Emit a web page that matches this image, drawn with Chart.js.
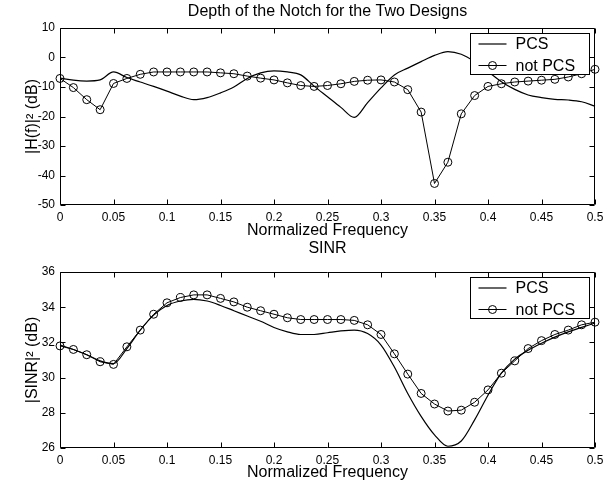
<!DOCTYPE html>
<html>
<head>
<meta charset="utf-8">
<script src="https://cdn.jsdelivr.net/npm/chart.js@4.4.1/dist/chart.umd.min.js"></script>
<style>
    html, body { margin: 0; padding: 0; background: #fff; }
    body { width: 615px; height: 487px; position: relative; overflow: hidden; }
    .panel { position: absolute; left: 0; }
    #notch-wrap { top: 0; }
    #sinr-wrap { top: 236px; }
</style>
</head>
<body>
<div class="panel" id="notch-wrap"><canvas id="notch-chart" width="615" height="245"></canvas></div>
<div class="panel" id="sinr-wrap"><canvas id="sinr-chart" width="615" height="251"></canvas></div>
<script>
// normalized frequency grid (one marker every 0.0125)
const freq = [
    0, 0.0125, 0.025, 0.0375, 0.05, 0.0625, 0.075, 0.0875, 0.1, 0.1125,
    0.125, 0.1375, 0.15, 0.1625, 0.175, 0.1875, 0.2, 0.2125, 0.225, 0.2375,
    0.25, 0.2625, 0.275, 0.2875, 0.3, 0.3125, 0.325, 0.3375, 0.35, 0.3625,
    0.375, 0.3875, 0.4, 0.4125, 0.425, 0.4375, 0.45, 0.4625, 0.475, 0.4875, 0.5,
];

// |H(f)|^2 (dB)
const notchPcs = [
    -7.0, -7.7, -8.0, -7.6, -4.9, -6.8, -8.3, -9.8, -11.4, -13.1,
    -14.3, -13.6, -12.0, -10.0, -7.1, -5.2, -4.5, -4.9, -5.9, -9.7,
    -13.3, -16.9, -20.3, -15.3, -10.3, -5.9, -3.6, -1.4, 0.7, 2.0,
    1.1, -1.4, -4.8, -8.2, -10.8, -12.7, -13.6, -14.2, -14.4, -15.0, -16.5,
];
const notchNotPcs = [
    -7.1, -10.2, -14.3, -17.7, -8.8, -7.1, -5.7, -4.9, -4.9, -4.9,
    -4.9, -4.9, -5.2, -5.5, -6.3, -7.0, -7.6, -8.6, -9.5, -9.8,
    -9.5, -8.9, -8.1, -7.7, -7.6, -8.3, -10.9, -18.5, -42.7, -35.5,
    -19.1, -12.9, -9.8, -8.9, -8.3, -8.0, -7.7, -7.4, -6.6, -5.5, -4.0,
];

// |SINR|^2 (dB)
const sinrPcs = [
    31.85, 31.6, 31.3, 30.95, 30.8, 31.65, 32.7, 33.55, 34.1, 34.35,
    34.45, 34.35, 34.1, 33.8, 33.5, 33.2, 32.85, 32.6, 32.45, 32.45,
    32.55, 32.65, 32.7, 32.5, 31.85, 30.6, 29.1, 27.8, 26.75, 26.1,
    26.4, 27.6, 29.0, 30.25, 31.05, 31.55, 31.95, 32.3, 32.6, 32.85, 33.1,
];
const sinrNotPcs = [
    31.8, 31.6, 31.3, 30.9, 30.75, 31.75, 32.7, 33.6, 34.25, 34.55,
    34.7, 34.7, 34.5, 34.3, 34.0, 33.8, 33.6, 33.4, 33.3, 33.3,
    33.3, 33.3, 33.25, 33.0, 32.45, 31.35, 30.2, 29.1, 28.5, 28.1,
    28.15, 28.6, 29.3, 30.25, 30.95, 31.65, 32.1, 32.45, 32.7, 33.0, 33.15,
];

const freqTicks = [0, 0.05, 0.1, 0.15, 0.2, 0.25, 0.3, 0.35, 0.4, 0.45, 0.5];
const notchTicks = [-50, -40, -30, -20, -10, 0, 10];
const sinrTicks = [26, 28, 30, 32, 34, 36];

const FONT = "'Liberation Sans', Arial, Helvetica, sans-serif";
Chart.defaults.font.family = FONT;
Chart.defaults.color = '#000';

// matlab style box with inward ticks on all four sides
const frameTicks = {
    id: 'frameTicks',
    afterDatasetsDraw(chart) {
        const { ctx, chartArea: a, scales: { x, y } } = chart;
        const L = Math.round(a.left) + 0.5;
        const R = Math.round(a.right) - 0.5;
        const T = Math.round(a.top) + 0.5;
        const B = Math.round(a.bottom) - 0.5;
        const len = 5;
        ctx.save();
        ctx.strokeStyle = '#000';
        ctx.lineWidth = 1;
        ctx.beginPath();
        ctx.rect(L, T, R - L, B - T);
        x.ticks.forEach((t) => {
            const px = Math.round(x.getPixelForValue(t.value)) + 0.5;
            ctx.moveTo(px, B); ctx.lineTo(px, B - len);
            ctx.moveTo(px, T); ctx.lineTo(px, T + len);
        });
        y.ticks.forEach((t) => {
            const py = Math.round(y.getPixelForValue(t.value)) + 0.5;
            ctx.moveTo(L, py); ctx.lineTo(L + len, py);
            ctx.moveTo(R, py); ctx.lineTo(R - len, py);
        });
        ctx.stroke();
        ctx.restore();
    },
};

// legend box drawn inside the plot, top right
const boxLegend = {
    id: 'boxLegend',
    afterDraw(chart) {
        const { ctx, chartArea: a } = chart;
        const w = 119, h = 41;
        const bx = Math.round(a.right) - 6 - w + 0.5;
        const by = Math.round(a.top) + 5 + 0.5;
        ctx.save();
        ctx.fillStyle = '#fff';
        ctx.strokeStyle = '#000';
        ctx.lineWidth = 1;
        ctx.fillRect(bx, by, w, h);
        ctx.strokeRect(bx, by, w, h);
        ctx.font = '16px ' + FONT;
        ctx.fillStyle = '#000';
        ctx.textBaseline = 'middle';
        chart.data.datasets.forEach((ds, i) => {
            const ry = by + 10.5 + i * 21.5;
            ctx.beginPath();
            ctx.moveTo(bx + 8, ry);
            ctx.lineTo(bx + 36, ry);
            ctx.lineWidth = ds.borderWidth;
            ctx.stroke();
            if (ds.pointRadius > 0) {
                ctx.beginPath();
                ctx.arc(bx + 22, ry, ds.pointRadius, 0, Math.PI * 2);
                ctx.lineWidth = 1;
                ctx.stroke();
            }
            ctx.fillText(ds.label, bx + 45, ry + 1);
        });
        ctx.restore();
    },
};

function toPoints(ys) {
    return freq.map((f, i) => ({ x: f, y: ys[i] }));
}

function makePanel(canvasId, cfg) {
    return new Chart(document.getElementById(canvasId), {
        type: 'line',
        data: {
            datasets: [
                {
                    label: 'PCS',
                    data: toPoints(cfg.pcs),
                    borderColor: '#000',
                    borderWidth: 1.2,
                    pointRadius: 0,
                    cubicInterpolationMode: 'monotone',
                    clip: 8,
                },
                {
                    label: 'not PCS',
                    data: toPoints(cfg.notPcs),
                    borderColor: '#000',
                    borderWidth: 1,
                    tension: 0,
                    pointRadius: 4,
                    pointBackgroundColor: 'rgba(0,0,0,0)',
                    pointBorderColor: '#000',
                    pointBorderWidth: 1,
                    clip: 8,
                },
            ],
        },
        options: {
            responsive: false,
            animation: false,
            events: [],
            layout: { padding: { left: 0, right: 20, top: 0, bottom: 0 } },
            plugins: {
                legend: { display: false },
                tooltip: { enabled: false },
                title: {
                    display: true,
                    fullSize: false,
                    text: cfg.title,
                    color: '#000',
                    font: { size: 16, weight: 'normal' },
                    padding: cfg.titlePad,
                },
            },
            scales: {
                x: {
                    type: 'linear',
                    min: 0,
                    max: 0.5,
                    grid: { display: false, drawTicks: false },
                    border: { display: false },
                    afterBuildTicks: (s) => { s.ticks = freqTicks.map((v) => ({ value: v })); },
                    afterFit: (s) => { s.height = cfg.xHeight; },
                    ticks: {
                        autoSkip: false,
                        maxRotation: 0,
                        padding: 5,
                        color: '#000',
                        font: { size: 12 },
                        callback: (v) => String(v),
                    },
                    title: {
                        display: true,
                        text: 'Normalized Frequency',
                        color: '#000',
                        font: { size: 16 },
                        padding: { top: 0, bottom: cfg.xTitlePad },
                    },
                },
                y: {
                    type: 'linear',
                    min: cfg.yTicks[0],
                    max: cfg.yTicks[cfg.yTicks.length - 1],
                    grid: { display: false, drawTicks: false },
                    border: { display: false },
                    afterBuildTicks: (s) => { s.ticks = cfg.yTicks.map((v) => ({ value: v })); },
                    afterFit: (s) => { s.width = 60; },
                    ticks: {
                        padding: 5,
                        color: '#000',
                        font: { size: 12 },
                    },
                    title: {
                        display: true,
                        text: cfg.yTitle,
                        color: '#000',
                        font: { size: 16 },
                        padding: { top: 23, bottom: 0 },
                    },
                },
            },
        },
        plugins: [frameTicks, boxLegend],
    });
}

makePanel('notch-chart', {
    title: 'Depth of the Notch for the Two Designs',
    titlePad: { top: 2.4, bottom: 6.4 },
    pcs: notchPcs,
    notPcs: notchNotPcs,
    yTicks: notchTicks,
    yTitle: '|H(f)|² (dB)',
    xHeight: 40,
    xTitlePad: 4.4,
});

makePanel('sinr-chart', {
    title: 'SINR',
    titlePad: { top: 3.4, bottom: 13.4 },
    pcs: sinrPcs,
    notPcs: sinrNotPcs,
    yTicks: sinrTicks,
    yTitle: '|SINR|² (dB)',
    xHeight: 39,
    xTitlePad: 4.9,
});
</script>
</body>
</html>
